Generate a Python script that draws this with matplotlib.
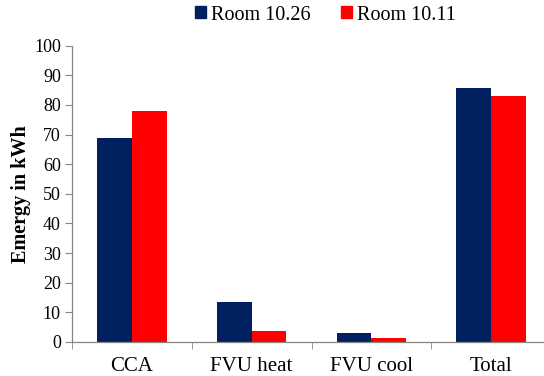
import matplotlib.pyplot as plt
import matplotlib.patches as mpatches
import numpy as np

plt.rcParams['font.family'] = ['Liberation Serif', 'DejaVu Serif']

categories = ['CCA', 'FVU heat', 'FVU cool', 'Total']
room_1026 = [68.8, 13.6, 3.2, 85.8]
room_1011 = [78.1, 3.8, 1.2, 83.0]
series_names = ['Room 10.26', 'Room 10.11']
y_ticks = list(range(0, 101, 10))

navy = '#002060'
red = '#FF0000'
axis_grey = '#868686'

fig = plt.figure(figsize=(5.44, 3.76), dpi=100)
# axes run slightly past the right edge, as in the original
ax = fig.add_axes([72 / 544, 1 - 342 / 376, 479 / 544, (342 - 45.7) / 376])

x = np.arange(len(categories))
w = 0.29
ax.bar(x - w / 2, room_1026, w, color=navy, linewidth=0)
ax.bar(x + w / 2, room_1011, w, color=red, linewidth=0)

ax.set_xlim(-0.5, len(categories) - 0.5)
ax.set_ylim(0, 100)
ax.set_yticks(y_ticks)
ax.tick_params(axis='y', labelsize=13, length=5, color=axis_grey, pad=3)

# category labels centred, tick marks on the boundaries
ax.set_xticks(x)
ax.set_xticklabels(categories, fontsize=15)
ax.tick_params(axis='x', which='major', length=0, pad=11)
ax.set_xticks(np.arange(-0.5, len(categories)), minor=True)
ax.tick_params(axis='x', which='minor', length=5, color=axis_grey)

for s in ['top', 'right']:
    ax.spines[s].set_visible(False)
for s in ['left', 'bottom']:
    ax.spines[s].set_color(axis_grey)
    ax.spines[s].set_linewidth(0.9)

ax.set_ylabel('Emergy in kWh', fontsize=14.5, fontweight='bold', labelpad=2)

handles = [mpatches.Patch(color=navy), mpatches.Patch(color=red)]
fig.legend(handles, series_names, loc='center', bbox_to_anchor=(0.598, 0.96),
           ncol=2, frameon=False, fontsize=14.5, handlelength=0.55, handleheight=0.55,
           handletextpad=0.25, columnspacing=1.5)

fig.savefig('out.png', dpi=100, facecolor='white')
